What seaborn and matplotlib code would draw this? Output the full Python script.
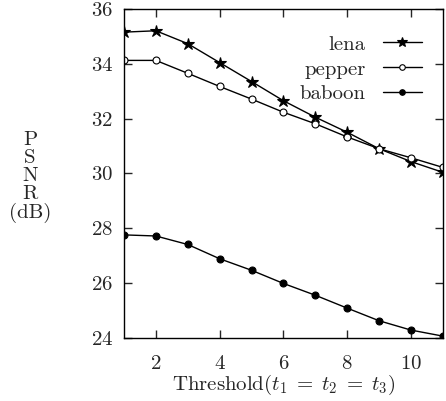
import matplotlib
matplotlib.use("Agg")
import matplotlib.pyplot as plt
import seaborn as sns
import pandas as pd

# PSNR vs threshold for three test images
thresholds = [1, 2, 3, 4, 5, 6, 7, 8, 9, 10, 11]
lena = [35.15, 35.2, 34.73, 34.04, 33.35, 32.65, 32.05, 31.5, 30.9, 30.43, 30.04]
pepper = [34.12, 34.12, 33.65, 33.17, 32.71, 32.23, 31.81, 31.33, 30.9, 30.57, 30.22]
baboon = [27.76, 27.72, 27.41, 26.89, 26.47, 25.99, 25.56, 25.09, 24.63, 24.29, 24.07]
images = ["lena", "pepper", "baboon"]

df = pd.DataFrame({
    "t": thresholds * 3,
    "psnr": lena + pepper + baboon,
    "image": [n for n in images for _ in thresholds],
})

sns.set_style("ticks")
plt.rcParams["font.family"] = ["cmr10", "DejaVu Serif"]
plt.rcParams["mathtext.fontset"] = "cm"
plt.rcParams["axes.formatter.use_mathtext"] = True

fs = 15
fig = plt.figure(figsize=(4.46, 4.01), dpi=100)
ax = fig.add_axes([0.278, 0.157, 0.715, 0.821])

sns.lineplot(data=df, x="t", y="psnr", hue="image", style="image",
             palette=["black"] * 3, markers=["*", "o", "o"], dashes=False,
             linewidth=1.0, markersize=6, ax=ax, legend=False)

# marker looks: star filled, pepper hollow, baboon small filled
lines = ax.get_lines()
lines[0].set_markersize(9)
lines[0].set_markerfacecolor("black")
lines[1].set_markerfacecolor("white")
lines[1].set_markersize(5)
lines[2].set_markerfacecolor("black")
lines[2].set_markersize(5)
for ln in lines[:3]:
    ln.set_markeredgecolor("black")
    ln.set_markeredgewidth(0.8)

leg = ax.legend(lines[:3], images, loc="upper right", frameon=False,
                markerfirst=False, fontsize=fs, handlelength=1.9,
                handletextpad=0.8, labelspacing=0.3,
                bbox_to_anchor=(0.935, 0.92), borderpad=0, borderaxespad=0)
for h in leg.legend_handles:
    h.set_markersize(h.get_markersize() * 0.8)

ax.set_xlim(1, 11)
ax.set_ylim(24, 36)
ax.set_xticks([2, 4, 6, 8, 10])
ax.set_yticks([24, 26, 28, 30, 32, 34, 36])
ax.tick_params(direction="in", top=True, right=True, length=6, width=1,
               labelsize=fs)
ax.tick_params(axis="x", pad=12)
ax.tick_params(axis="y", pad=8)
for s in ax.spines.values():
    s.set_linewidth(1.0)
    s.set_color("black")

ax.set_xlabel(r"Threshold$(t_1\;=\;t_2\;=\;t_3)$", fontsize=fs, labelpad=0)
ax.set_ylabel("P\nS\nN\nR\n(dB)", rotation=0, fontsize=fs,
              linespacing=1.0, va="center", ha="center")
ax.yaxis.set_label_coords(-0.295, 0.49)

fig.savefig("out.png", dpi=100)
